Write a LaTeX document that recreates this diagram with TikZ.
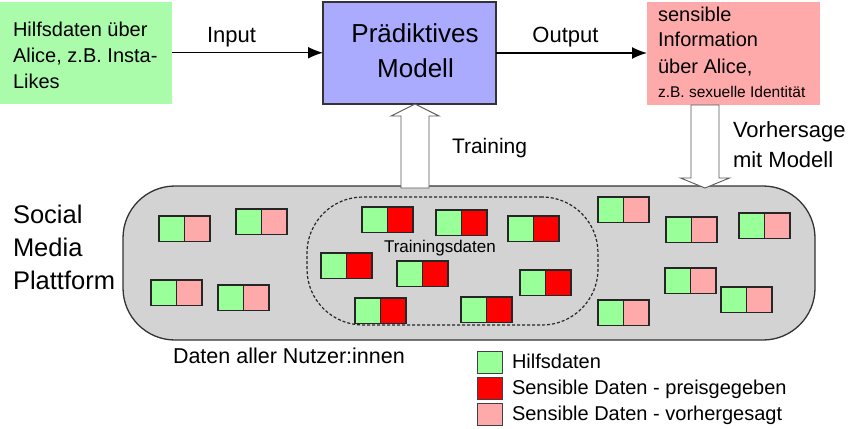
\documentclass[tikz,border=0pt]{standalone}
\usepackage{fontspec}
\setmainfont{Liberation Sans}
\usetikzlibrary{arrows.meta,calc}
\definecolor{boxgreen}{HTML}{AAFCAA}
\definecolor{sqgreen}{HTML}{99FF99}
\definecolor{modelblue}{HTML}{AAAAFF}
\definecolor{pinkc}{HTML}{FFAAAA}
\definecolor{redc}{HTML}{FF0000}
\definecolor{platgray}{HTML}{D3D3D3}
\definecolor{edge}{HTML}{333333}
\tikzset{
  fs/.style={font=\fontsize{#1}{#1}\selectfont},
  txt/.style={inner sep=0pt, outer sep=0pt, anchor=base west},
  rectbox/.style={inner sep=0pt, outer sep=0pt},
  conn/.style={line width=1.5pt, -{Latex[length=15pt,width=12pt]}},
  hollow/.style={draw=black!65, fill=white, line width=0.9pt, line join=miter},
  sqr/.style={draw=black!85, line width=1.3pt, minimum size=25.5pt, inner sep=0pt, outer sep=0pt, anchor=north west},
  legsq/.style={draw=black!75, line width=1pt, minimum width=25pt, minimum height=22pt, inner sep=0pt, outer sep=0pt},
}
\begin{document}
\begin{tikzpicture}[x=1pt,y=-1pt]
\useasboundingbox (0,0) rectangle (850,428);

% top row boxes
\node[rectbox, fill=boxgreen, minimum width=172pt, minimum height=101.5pt] (green) at (86,52.75) {};
\node[txt, fs=20] (g1) at (13,37) {Hilfsdaten über};
\node[txt, fs=20] (g2) at (13,63) {Alice, z.B. Insta-};
\node[txt, fs=20] (g3) at (13,88) {Likes};

\node[rectbox, fill=modelblue, draw=edge, line width=1.3pt, minimum width=173pt, minimum height=102pt] (model) at (409.5,53) {};
\node[txt, anchor=base, fs=26] (m1) at (415,43) {Prädiktives};
\node[txt, anchor=base, fs=26] (m2) at (415.5,77) {Modell};

\node[rectbox, fill=pinkc, minimum width=173pt, minimum height=103pt] (pink) at (733.5,53.5) {};
\node[txt, fs=20] (s1) at (658,22) {sensible};
\node[txt, fs=20] (s2) at (658,47) {Information};
\node[txt, fs=20] (s3) at (658,73) {über Alice,};
\node[txt, fs=15.5] (s4) at (658,97) {z.B. sexuelle Identität};

% connectors
\draw[conn] (green.east) -- (green.east -| model.west);
\draw[conn] (model.east) -- (model.east -| pink.west);
\node[txt, anchor=base, fs=22] (inlab) at (231.5,42) {Input};
\node[txt, anchor=base, fs=22] (outlab) at (565.5,42) {Output};

% platform
\node[rectbox, fill=platgray, draw=edge, line width=1.3pt, rounded corners=52pt, minimum width=692pt, minimum height=154pt] (platform) at (469,263) {};
\node[rectbox, draw=black!85, line width=1.2pt, dash pattern=on 3pt off 2pt, rounded corners=56pt, minimum width=291pt, minimum height=128pt] (train) at (452.5,261) {};
\node[txt, fs=17] (trl) at (384,252) {Trainingsdaten};

% block arrows
\coordinate (trtip) at (415,104);
\coordinate (trbase) at (415,188);
\draw[hollow] ($(trbase)+(-14,0)$) -- ($(trtip)+(-14,12)$) -- ($(trtip)+(-24,12)$) -- (trtip)
  -- ($(trtip)+(24,12)$) -- ($(trtip)+(14,12)$) -- ($(trbase)+(14,0)$) -- cycle;
\coordinate (vtop) at (705,105);
\coordinate (vtip) at (705,188);
\draw[hollow] ($(vtop)+(-14,0)$) -- ($(vtip)+(-14,-10)$) -- ($(vtip)+(-24.5,-10)$) -- (vtip)
  -- ($(vtip)+(24.5,-10)$) -- ($(vtip)+(14,-10)$) -- ($(vtop)+(14,0)$) -- cycle;
\node[txt, fs=21] (trainlab) at (452,153) {Training};
\node[txt, fs=22] (v1) at (733,137) {Vorhersage};
\node[txt, fs=22] (v2) at (733,167) {mit Modell};

% data pairs: predicted (pink)
\foreach \x/\y [count=\i] in {159/216, 236/209, 151/280, 218/285, 598/197, 666/217, 739/213, 665/268, 721/287, 598/300} {
  \node[sqr, fill=sqgreen] (pg\i) at (\x,\y) {};
  \node[sqr, fill=pinkc] (pp\i) at (pg\i.north east) {};
}
% data pairs: disclosed (red)
\foreach \x/\y [count=\i] in {362/207, 436/210, 321/253, 397/261, 355/298, 461/297, 508/216, 520/270} {
  \node[sqr, fill=sqgreen] (rg\i) at (\x,\y) {};
  \node[sqr, fill=redc] (rr\i) at (rg\i.north east) {};
}

% side labels
\node[txt, fs=25.5] (so1) at (13,223) {Social};
\node[txt, fs=25.5] (so2) at (13,256) {Media};
\node[txt, fs=25.5] (so3) at (13,289) {Plattform};
\node[txt, fs=21.5] (daten) at (173,363) {Daten aller Nutzer:innen};

% legend
\node[legsq, fill=sqgreen] (lg) at (489.5,362) {};
\node[legsq, fill=redc] (lr) at (489.5,388) {};
\node[legsq, fill=pinkc] (lp) at (489.5,414) {};
\node[txt, fs=20] (lgt) at (512,368) {Hilfsdaten};
\node[txt, fs=20] (lrt) at (512,394.5) {Sensible Daten - preisgegeben};
\node[txt, fs=20] (lpt) at (512,420.5) {Sensible Daten - vorhergesagt};
\end{tikzpicture}
\end{document}
